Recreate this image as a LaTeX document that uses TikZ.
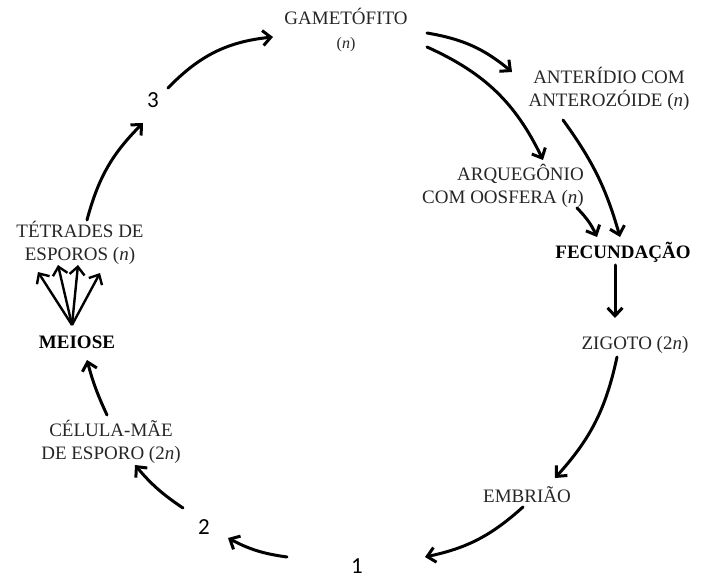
\documentclass[tikz,border=0pt]{standalone}
\usepackage{fontspec}
\setmainfont{Liberation Serif}
\newfontfamily\numfont{Carlito}
\usepackage{tikz}
\usetikzlibrary{arrows.meta}

\begin{document}
\begin{tikzpicture}[x=1pt, y=1pt,
	lbl/.style={inner sep=0pt, align=center, text=black!85, font=\fontsize{19}{23}\selectfont},
	num/.style={inner sep=0pt, font=\numfont\fontsize{23}{26}\selectfont},
	cyc/.style={-{Straight Barb[length=8pt,width=15pt]}, line width=3pt, line cap=round}]
	\useasboundingbox (0,0) rectangle (709,579);
	% stages of the cycle
	\node[lbl] (gam) at (346,549) {GAMETÓFITO\\[1pt]{\fontsize{16}{18}\selectfont(\textit{n})}};
	\node[lbl] (anter) at (609,490) {ANTERÍDIO COM\\ANTEROZÓIDE (\textit{n})};
	\node[lbl, align=right] (arqueg) at (503,393) {ARQUEGÔNIO\\COM OOSFERA (\textit{n})};
	\node[lbl, text=black, font=\bfseries\fontsize{19}{23}\selectfont] (fecund) at (623,327) {FECUNDAÇÃO};
	\node[lbl] (zigoto) at (635,234) {ZIGOTO (2\textit{n})};
	\node[lbl] (embriao) at (527,84) {EMBRIÃO};
	\node[num] (one) at (357,13) {1};
	\node[num] (two) at (204,52) {2};
	\node[lbl] (celula) at (111,137) {CÉLULA-MÃE\\DE ESPORO (2\textit{n})};
	\node[lbl, text=black, font=\bfseries\fontsize{19}{23}\selectfont] (meiose) at (77,237) {MEIOSE};
	\node[lbl] (tetrades) at (80,336) {TÉTRADES DE\\ESPOROS (\textit{n})};
	\node[num] (three) at (153,479) {3};
	% arrows
	\draw[cyc] ([shift={(15,12)}]three.center) to[bend left=20] ([shift={(-73,-7)}]gam.center);
	\draw[cyc] ([shift={(81,-3)}]gam.center) to[bend left=15] ([shift={(-97,17)}]anter.center);
	\draw[cyc] ([shift={(81,-17)}]gam.center) to[bend left=20] ([shift={(40,26)}]arqueg.center);
	\draw[cyc] ([shift={(-46,-31)}]anter.center) to[bend left=10] ([shift={(-3,15)}]fecund.center);
	\draw[cyc] ([shift={(74,-22)}]arqueg.center) to[bend left=10] ([shift={(-26,15)}]fecund.center);
	\draw[cyc] ([shift={(-8,-13)}]fecund.center) -- ([shift={(-20,27)}]zigoto.center);
	\draw[cyc] ([shift={(-18,-12)}]zigoto.center) to[bend left=15] ([shift={(28,17)}]embriao.center);
	\draw[cyc] ([shift={(-4,-12)}]embriao.center) to[bend left=15] ([shift={(68,9)}]one.center);
	\draw[cyc] ([shift={(-70,9)}]one.center) to[bend left=10] ([shift={(24,-11)}]two.center);
	\draw[cyc] ([shift={(-21,19)}]two.center) to[bend left=8] ([shift={(24,-23)}]celula.center);
	\draw[cyc] ([shift={(-4,27)}]celula.center) to[bend left=5] ([shift={(10,-18)}]meiose.center);
	\draw[cyc] ([shift={(7,23)}]tetrades.center) to[bend left=15] ([shift={(-10,-23)}]three.center);
	% meiosis gives four spores
	\foreach \dx/\dy in {-42/-29, -22/-22, -2/-22, 20/-30}
	  \draw[cyc, line width=2.4pt, line cap=butt] ([shift={(-5,17)}]meiose.center) -- ([shift={(\dx,\dy)}]tetrades.center);
\end{tikzpicture}
\end{document}
